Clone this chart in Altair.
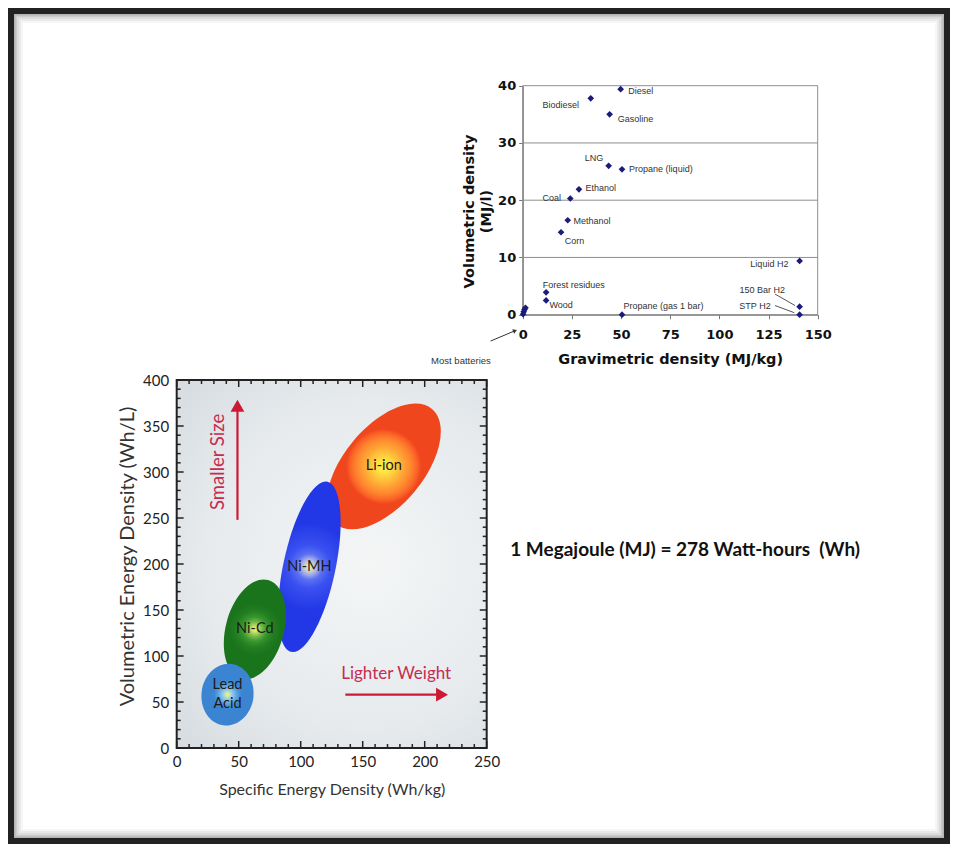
import altair as alt
import pandas as pd

# ---------------- Fuel chart (top right): MJ/kg vs MJ/l ----------------
fuel_names = ["Diesel", "Biodiesel", "Gasoline", "LNG", "Propane (liquid)", "Ethanol", "Coal",
              "Methanol", "Corn", "Liquid H2", "Forest residues", "Wood",
              "Propane (gas 1 bar)", "150 Bar H2", "STP H2"]
fuel_gravimetric = [49.8, 34.6, 44.2, 43.7, 50.5, 28.6, 24.2, 22.9, 19.5, 140.8, 11.9, 11.9, 50.5, 140.8, 140.8]
fuel_volumetric = [39.4, 37.8, 35.0, 26.0, 25.4, 21.9, 20.3, 16.5, 14.4, 9.4, 3.9, 2.5, 0.0, 1.4, 0.0]
# where each label sits (data units) and which side of the point it is on
label_gravimetric = [53.7, 28.6, 48.3, 41.0, 54.1, 31.9, 19.5, 25.8, 21.4, 135.1, 10.2, 13.6, 51.2, 133.4, 126.1]
label_volumetric = [39.1, 36.7, 34.1, 27.3, 25.4, 22.2, 20.4, 16.4, 12.9, 8.8, 5.2, 1.75, 1.6, 4.3, 1.6]
label_side = ["left", "right", "left", "right", "left", "left", "right", "left", "left", "right",
              "left", "left", "left", "right", "right"]
battery_gravimetric = [0.2, 0.5, 0.9, 1.4]
battery_volumetric = [0.1, 0.5, 0.9, 1.2]
leader_from_g = [128.3, 128.3]
leader_from_v = [3.6, 1.6]
leader_to_g = [138.5, 138.1]
leader_to_v = [1.6, 0.35]
fuel_x_ticks = [0, 25, 50, 75, 100, 125, 150]
fuel_y_ticks = [0, 10, 20, 30, 40]
fuel_grid = [10, 20, 30]
fuel_x_domain = [0, 150]
fuel_y_domain = [0, 40]
note_batteries = "Most batteries"
note_batteries_at = [-31.4, -8.1]
note_arrow = [-16.3, -4.6, -3.9, -2.8]

# ---------------- Battery chart (bottom left): Wh/kg vs Wh/L ----------------
battery_names = ["Li-ion", "Ni-MH", "Ni-Cd", "Lead\nAcid"]
specific_energy = [167, 107, 63, 41]
energy_density = [306, 197, 129, 58]
bat_x_domain = [0, 250]
bat_y_domain = [0, 400]
bat_x_labels = [0, 50, 100, 150, 200, 250]
bat_y_labels = [0, 50, 100, 150, 200, 250, 300, 350, 400]
bat_x_ticks = [0, 10, 20, 30, 40, 50, 60, 70, 80, 90, 100, 110, 120, 130, 140, 150, 160, 170,
               180, 190, 200, 210, 220, 230, 240, 250]
bat_y_ticks = [0, 10, 20, 30, 40, 50, 60, 70, 80, 90, 100, 110, 120, 130, 140, 150, 160, 170,
               180, 190, 200, 210, 220, 230, 240, 250, 260, 270, 280, 290, 300, 310, 320, 330,
               340, 350, 360, 370, 380, 390, 400]
arrow_up = {"x": 49, "from": 248, "to": 368, "head": 372}
arrow_right = {"y": 58, "from": 136, "to": 210, "head": 214}
text_smaller = ["Smaller Size", 33.6, 311.0]
text_lighter = ["Lighter Weight", 177, 80.8]
conversion_note = ["1 Megajoule (MJ) = 278 Watt-hours\u00a0 (Wh)", 410, 215]

# ---------------- layout / styles ----------------
W, H = 942, 836
FSX = alt.Scale(domain=fuel_x_domain, range=[514.7, 809.7], nice=False, zero=False)
FSY = alt.Scale(domain=fuel_y_domain, range=[306.7, 77.7], nice=False, zero=False)
BSX = alt.Scale(domain=bat_x_domain, range=[168.7, 478.7], nice=False, zero=False)
BSY = alt.Scale(domain=bat_y_domain, range=[740.0, 372.0], nice=False, zero=False)
PSX = alt.Scale(domain=[0, 1], range=[0, W], nice=False, zero=False)
PSY = alt.Scale(domain=[0, 1], range=[H, 0], nice=False, zero=False)

BFONT = "Lato"
FFONT = "DejaVu Sans"
RED = "#cc1a34"
RED_TEXT = "#c52c50"


def ex(field, sc, axis=None):
    return alt.X(f"{field}:Q", scale=sc, axis=axis, title=None)


def ey(field, sc, axis=None):
    return alt.Y(f"{field}:Q", scale=sc, axis=axis, title=None)


def ellipse_path(k):
    c = 0.5523
    return (f"M0,-1 C{c*k:.4f},-1 {k:.4f},{-c:.4f} {k:.4f},0 "
            f"C{k:.4f},{c:.4f} {c*k:.4f},1 0,1 "
            f"C{-c*k:.4f},1 {-k:.4f},{c:.4f} {-k:.4f},0 "
            f"C{-k:.4f},{-c:.4f} {-c*k:.4f},-1 0,-1 Z")


def radial(stops):
    return {"gradient": "radial", "x1": 0.5, "y1": 0.5, "r1": 0, "x2": 0.5, "y2": 0.5, "r2": 0.5,
            "stops": [{"offset": o, "color": c} for o, c in stops]}


ellipse_style = {
    "Li-ion": dict(a=75, k=0.53, angle=40, stops=[(0, "#f6f250"), (0.08, "#ffe444"), (0.18, "#ffc23c"),
                                                   (0.28, "#ffa034"), (0.37, "#ff842e"), (0.45, "#fa6226"),
                                                   (0.5, "#f0461e")]),
    "Ni-MH": dict(a=87, k=0.30, angle=12, stops=[(0, "#eef29e"), (0.04, "#d8dcbe"), (0.09, "#a6aee8"),
                                                  (0.15, "#5a70f2"), (0.25, "#3a50f0"), (0.5, "#2238e6")]),
    "Ni-Cd": dict(a=51, k=0.57, angle=15, stops=[(0, "#eef27c"), (0.06, "#c8e066"), (0.14, "#78ba4a"),
                                                  (0.24, "#38962e"), (0.36, "#237f22"), (0.5, "#1a741c")]),
    "Lead\nAcid": dict(a=31, k=0.84, angle=8, stops=[(0, "#f2f48a"), (0.07, "#cce6a6"), (0.16, "#8ec8ee"),
                                                      (0.3, "#5ca2e2"), (0.42, "#3e8ad6"), (0.5, "#3a84d2")]),
}

layers = []

# --- soft grey shadow just inside the black page frame ---
shadow = pd.DataFrame({"a0": [0] * 5, "a1": [1] * 5, "b0": [0] * 5, "b1": [1] * 5,
                       "w": [30, 26, 22, 18, 15], "o": [0.05, 0.07, 0.09, 0.12, 0.18]})
layers.append(alt.Chart(shadow).mark_rect(fillOpacity=0, stroke="#555").encode(
    x=ex("a0", PSX), x2="a1:Q", y=ey("b0", PSY), y2="b1:Q",
    strokeWidth=alt.StrokeWidth("w:Q", scale=None), strokeOpacity=alt.StrokeOpacity("o:Q", scale=None)))

# --- battery chart background + frame, carrying its axes ---
bg = pd.DataFrame({"x0": [bat_x_domain[0]], "x1": [bat_x_domain[1]],
                   "y0": [bat_y_domain[0]], "y1": [bat_y_domain[1]]})
bat_x_axis = alt.Axis(orient="bottom", offset=740.0 - H, values=bat_x_labels, ticks=False, domain=False,
                      grid=False, labelFlush=False, labelFont=BFONT, labelFontSize=15, labelColor="#222",
                      labelPadding=6, title="Specific Energy Density (Wh/kg)", titleFont=BFONT,
                      titleFontSize=16, titleFontWeight="normal", titleColor="#333", titlePadding=12)
bat_y_axis = alt.Axis(orient="left", offset=-168.7, values=bat_y_labels, ticks=False, domain=False,
                      grid=False, labelFlush=False, labelFont=BFONT, labelFontSize=15, labelColor="#222",
                      labelPadding=8, title="Volumetric Energy Density (Wh/L)", titleFont=BFONT,
                      titleFontSize=20, titleFontWeight="normal", titleColor="#333", titlePadding=5,
                      titleY=548)
layers.append(
    alt.Chart(bg).mark_rect(
        fill={"gradient": "radial", "x1": 0.6, "y1": 0.5, "r1": 0, "x2": 0.6, "y2": 0.5, "r2": 0.75,
              "stops": [{"offset": 0, "color": "#f4f6f6"}, {"offset": 0.6, "color": "#e6eaed"},
                        {"offset": 1, "color": "#d4dade"}]},
        stroke="#222", strokeWidth=2
    ).encode(x=alt.X("x0:Q", scale=BSX, axis=bat_x_axis), x2="x1:Q",
             y=alt.Y("y0:Q", scale=BSY, axis=bat_y_axis), y2="y1:Q")
)

# --- inward ticks on all four sides ---
rows = []
for v in bat_x_ticks:
    ln = 7.6 if v % 50 == 0 else 4.3
    rows.append((v, v, bat_y_domain[0], bat_y_domain[0] + ln))
    rows.append((v, v, bat_y_domain[1], bat_y_domain[1] - ln))
for v in bat_y_ticks:
    ln = 5.6 if v % 50 == 0 else 3.2
    rows.append((bat_x_domain[0], bat_x_domain[0] + ln, v, v))
    rows.append((bat_x_domain[1], bat_x_domain[1] - ln, v, v))
ticks = pd.DataFrame(rows, columns=["tx", "tx2", "ty", "ty2"])
layers.append(
    alt.Chart(ticks).mark_rule(color="#222", strokeWidth=1.5).encode(
        x=ex("tx", BSX), x2="tx2:Q", y=ey("ty", BSY), y2="ty2:Q")
)

# --- battery ellipses (Li-ion at the back, Lead Acid in front) ---
bat = pd.DataFrame({"name": battery_names, "wh_kg": specific_energy, "wh_l": energy_density})
for name in battery_names:
    st = ellipse_style[name]
    layers.append(
        alt.Chart(bat[bat["name"] == name]).mark_point(
            shape=ellipse_path(st["k"]), size=(2 * st["a"]) ** 2, angle=st["angle"],
            filled=True, fill=radial(st["stops"]), opacity=1, strokeWidth=0
        ).encode(x=ex("wh_kg", BSX), y=ey("wh_l", BSY))
    )
single = bat[~bat["name"].str.contains("\n")]
multi = bat[bat["name"].str.contains("\n")]
layers.append(
    alt.Chart(single).mark_text(font=BFONT, fontSize=14.5, color="#1a1a1a", baseline="middle").encode(
        x=ex("wh_kg", BSX), y=ey("wh_l", BSY), text="name:N")
)
layers.append(
    alt.Chart(multi).mark_text(font=BFONT, fontSize=14.5, color="#1a1a1a", lineBreak="\n", lineHeight=19,
                               baseline="middle", dy=-10).encode(
        x=ex("wh_kg", BSX), y=ey("wh_l", BSY), text="name:N")
)

# --- arrows and their captions ---
up = pd.DataFrame({"x": [arrow_up["x"]], "y0": [arrow_up["from"]], "y1": [arrow_up["to"]],
                   "yh": [arrow_up["head"]]})
right = pd.DataFrame({"y": [arrow_right["y"]], "x0": [arrow_right["from"]], "x1": [arrow_right["to"]],
                      "xh": [arrow_right["head"]]})
layers.append(alt.Chart(up).mark_rule(color=RED, strokeWidth=2.2).encode(
    x=ex("x", BSX), y=ey("y0", BSY), y2="y1:Q"))
layers.append(alt.Chart(up).mark_point(shape="triangle-up", size=190, filled=True, color=RED, opacity=1).encode(
    x=ex("x", BSX), y=ey("yh", BSY)))
layers.append(alt.Chart(right).mark_rule(color=RED, strokeWidth=2.2).encode(
    y=ey("y", BSY), x=ex("x0", BSX), x2="x1:Q"))
layers.append(alt.Chart(right).mark_point(shape="triangle-right", size=190, filled=True, color=RED,
                                          opacity=1).encode(x=ex("xh", BSX), y=ey("y", BSY)))
caps = pd.DataFrame({"t": [text_smaller[0]], "x": [text_smaller[1]], "y": [text_smaller[2]]})
layers.append(alt.Chart(caps).mark_text(font=BFONT, fontSize=18.5, color=RED_TEXT, angle=270).encode(
    x=ex("x", BSX), y=ey("y", BSY), text="t:N"))
caps2 = pd.DataFrame({"t": [text_lighter[0]], "x": [text_lighter[1]], "y": [text_lighter[2]]})
layers.append(alt.Chart(caps2).mark_text(font=BFONT, fontSize=17, color=RED_TEXT).encode(
    x=ex("x", BSX), y=ey("y", BSY), text="t:N"))

# --- conversion note ---
conv = pd.DataFrame({"t": [conversion_note[0]], "x": [conversion_note[1]], "y": [conversion_note[2]]})
layers.append(alt.Chart(conv).mark_text(font=BFONT, fontSize=19, fontWeight="bold", color="#111").encode(
    x=ex("x", BSX), y=ey("y", BSY), text="t:N"))

# ---------------- fuel chart ----------------
frame = pd.DataFrame({"g0": [fuel_x_domain[0]], "g1": [fuel_x_domain[1]],
                      "v0": [fuel_y_domain[0]], "v1": [fuel_y_domain[1]]})
layers.append(alt.Chart(frame).mark_rect(fillOpacity=0, stroke="#8e8e8e", strokeWidth=1).encode(
    x=ex("g0", FSX), x2="g1:Q", y=ey("v0", FSY), y2="v1:Q"))
grid = pd.DataFrame({"v": fuel_grid, "g0": fuel_x_domain[0], "g1": fuel_x_domain[1]})
layers.append(alt.Chart(grid).mark_rule(color="#8e8e8e", strokeWidth=1).encode(
    y=ey("v", FSY), x=ex("g0", FSX), x2="g1:Q"))

fuel = pd.DataFrame({"name": fuel_names, "g": fuel_gravimetric, "v": fuel_volumetric,
                     "lg": label_gravimetric, "lv": label_volumetric, "side": label_side})
fuel_x_axis = alt.Axis(orient="bottom", offset=306.7 - H, values=fuel_x_ticks, grid=False, labelFlush=False,
                       tickSize=4, tickColor="#777", domainColor="#777", domainWidth=1.2,
                       labelFont=FFONT, labelFontSize=13, labelFontWeight="bold", labelColor="#111",
                       labelPadding=10, title="Gravimetric density (MJ/kg)", titleFont=FFONT,
                       titleFontSize=14.5, titleFontWeight="bold", titleColor="#111", titlePadding=11)
fuel_y_axis = alt.Axis(orient="left", offset=-514.7, values=fuel_y_ticks, grid=False, labelFlush=False,
                       tickSize=4, tickColor="#777", domainColor="#777", domainWidth=1.2,
                       labelFont=FFONT, labelFontSize=13, labelFontWeight="bold", labelColor="#111",
                       labelPadding=3, title=["Volumetric density", "(MJ/l)"], titleFont=FFONT,
                       titleFontSize=14.5, titleFontWeight="bold", titleColor="#111", titlePadding=4,
                       titleLineHeight=17, titleY=203)
layers.append(alt.Chart(fuel).mark_point(shape="diamond", size=45, filled=True, color="#1b1b7a",
                                         opacity=1).encode(
    x=alt.X("g:Q", scale=FSX, axis=fuel_x_axis), y=alt.Y("v:Q", scale=FSY, axis=fuel_y_axis)))
cells = pd.DataFrame({"g": battery_gravimetric, "v": battery_volumetric})
layers.append(alt.Chart(cells).mark_point(shape="diamond", size=45, filled=True, color="#1b1b7a",
                                          opacity=1).encode(x=ex("g", FSX), y=ey("v", FSY)))
for side in ["left", "right"]:
    layers.append(
        alt.Chart(fuel[fuel["side"] == side]).mark_text(
            font="Liberation Sans", fontSize=9, color="#333", align=side, baseline="middle"
        ).encode(x=ex("lg", FSX), y=ey("lv", FSY), text="name:N")
    )
leaders = pd.DataFrame({"g0": leader_from_g, "v0": leader_from_v, "g1": leader_to_g, "v1": leader_to_v})
layers.append(alt.Chart(leaders).mark_rule(color="#555", strokeWidth=1).encode(
    x=ex("g0", FSX), y=ey("v0", FSY), x2="g1:Q", y2="v1:Q"))
nb = pd.DataFrame({"t": [note_batteries], "g": [note_batteries_at[0]], "v": [note_batteries_at[1]]})
layers.append(alt.Chart(nb).mark_text(font="Liberation Sans", fontSize=9.5, color="#333").encode(
    x=ex("g", FSX), y=ey("v", FSY), text="t:N"))
na = pd.DataFrame({"g0": [note_arrow[0]], "v0": [note_arrow[1]], "g1": [note_arrow[2]], "v1": [note_arrow[3]]})
layers.append(alt.Chart(na).mark_rule(color="#333", strokeWidth=1).encode(
    x=ex("g0", FSX), y=ey("v0", FSY), x2="g1:Q", y2="v1:Q"))
layers.append(alt.Chart(na).mark_point(shape="triangle-right", size=22, filled=True, color="#333", opacity=1,
                                       angle=337).encode(x=ex("g1", FSX), y=ey("v1", FSY)))

chart = alt.layer(*layers).resolve_scale(x="independent", y="independent").properties(
    width=W, height=H, autosize=alt.AutoSizeParams(type="none"), padding=0, background="white"
).configure_view(stroke="black", strokeWidth=12)

chart.save("out.html", embed_options={"renderer": "svg", "actions": False})
